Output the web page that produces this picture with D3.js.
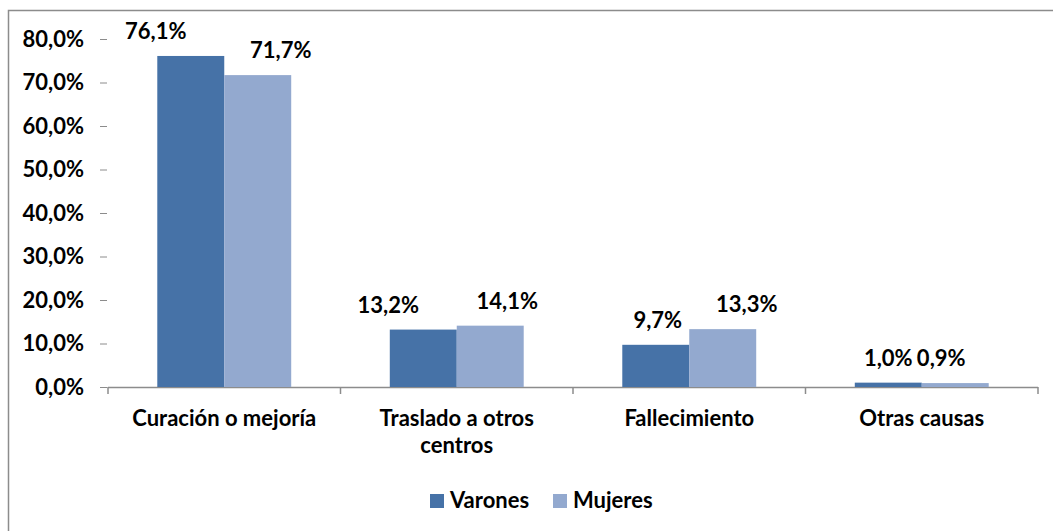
<!DOCTYPE html>
<html>
<head>
<meta charset="utf-8">
<script src="https://cdn.jsdelivr.net/npm/d3@7"></script>
<style>
  html, body { margin: 0; padding: 0; background: #fff; }
  svg { display: block; font-family: Lato, "Open Sans", sans-serif; font-weight: bold; }
</style>
</head>
<body>
<svg id="chart" width="1053" height="531"></svg>
<script>
// data
const categories = ["Curación o mejoría", "Traslado a otros centros", "Fallecimiento", "Otras causas"];
const seriesNames = ["Varones", "Mujeres"];
const varones = [76.1, 13.2, 9.7, 1.0];
const mujeres = [71.7, 14.1, 13.3, 0.9];
const yTicks = [0, 10, 20, 30, 40, 50, 60, 70, 80];

const colors = ["#4672a7", "#93a9cf"];
const fontSize = 22;

// the labels were nudged sideways by hand in the original
const labelShift = [[-35, 23], [-35, 17], [2, 24], [0, -14]];

const svg = d3.select("#chart");
const W = 1053, H = 531;
const margin = { top: 39, right: 15, bottom: 144, left: 108 };
const plotW = 1038 - margin.left, plotH = 387 - margin.top;

// chart frame
svg.append("rect")
  .attr("x", 8.5).attr("y", 10.5)
  .attr("width", W + 20).attr("height", H + 20)
  .attr("fill", "none")
  .attr("stroke", "#8c8c8c")
  .attr("stroke-width", 1.5);

const g = svg.append("g").attr("transform", `translate(${margin.left},${margin.top})`);

const x = d3.scaleBand().domain(categories).range([0, plotW]).paddingInner(0.424).paddingOuter(0.212);
const x1 = d3.scaleBand().domain(seriesNames).range([0, x.bandwidth()]);
const y = d3.scaleLinear().domain([0, 80]).range([plotH, 0]);

const fmt = v => d3.format(".1f")(v).replace(".", ",") + "%";

// y axis: ticks only
const yAxis = g.append("g")
  .call(d3.axisLeft(y).tickValues(yTicks).tickSize(7).tickPadding(17).tickFormat(fmt));
yAxis.select(".domain").remove();
yAxis.selectAll(".tick line").attr("stroke", "#8c8c8c").attr("transform", "translate(-1,0)");
yAxis.selectAll(".tick text").attr("font-size", fontSize).attr("fill", "#000")
  .attr("font-family", "Lato, sans-serif").attr("font-weight", "bold");

// x axis line with boundary ticks
const step = x.step();
const bounds = d3.range(categories.length + 1).map(i => i * step);
g.append("line")
  .attr("x1", 0).attr("x2", plotW)
  .attr("y1", plotH + 0.5).attr("y2", plotH + 0.5)
  .attr("stroke", "#8c8c8c").attr("stroke-width", 1.5);
g.selectAll(".xtick").data(bounds).join("line")
  .attr("class", "xtick")
  .attr("x1", d => d).attr("x2", d => d)
  .attr("y1", plotH).attr("y2", plotH + 7)
  .attr("stroke", "#8c8c8c").attr("stroke-width", 1.5);

// bars
const groups = g.selectAll(".grp").data(categories).join("g")
  .attr("class", "grp")
  .attr("transform", d => `translate(${x(d)},0)`);

groups.each(function (cat, ci) {
  const vals = [varones[ci], mujeres[ci]];
  const gg = d3.select(this);
  gg.selectAll("rect").data(vals).join("rect")
    .attr("x", (d, si) => x1(seriesNames[si]))
    .attr("y", d => y(d))
    .attr("width", x1.bandwidth())
    .attr("height", d => plotH - y(d))
    .attr("fill", (d, si) => colors[si]);
  gg.selectAll("text").data(vals).join("text")
    .attr("x", (d, si) => x1(seriesNames[si]) + x1.bandwidth() / 2 + labelShift[ci][si])
    .attr("y", d => y(d) - 17)
    .attr("text-anchor", "middle")
    .attr("font-size", fontSize)
    .attr("fill", "#000")
    .text(fmt);
});

// category labels (wrapped)
const catLines = { "Traslado a otros centros": ["Traslado a otros", "centros"] };
g.selectAll(".cat").data(categories).join("text")
  .attr("class", "cat")
  .attr("text-anchor", "middle")
  .attr("font-size", fontSize)
  .attr("fill", "#000")
  .attr("transform", d => `translate(${x(d) + x.bandwidth() / 2},${plotH + 39})`)
  .each(function (d) {
    const lines = catLines[d] || [d];
    d3.select(this).selectAll("tspan").data(lines).join("tspan")
      .attr("x", 0).attr("dy", (l, i) => i ? 27 : 0).text(l => l);
  });

// legend
const legend = svg.append("g").attr("transform", "translate(430,494)");
const items = legend.selectAll("g").data(seriesNames).join("g")
  .attr("transform", (d, i) => `translate(${i * 123},0)`);
items.append("rect").attr("width", 14).attr("height", 14).attr("fill", (d, i) => colors[i]);
items.append("text").attr("x", 20).attr("y", 14).attr("font-size", fontSize).attr("fill", "#000").text(d => d);
</script>
</body>
</html>
